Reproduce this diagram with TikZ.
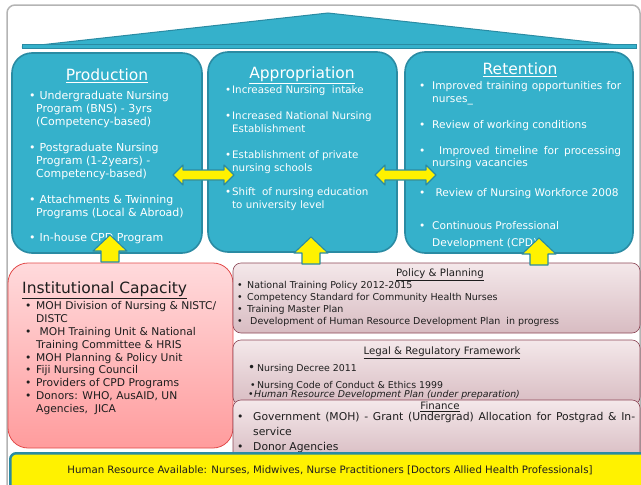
\documentclass[tikz,border=0pt]{standalone}
\usepackage{fontspec}
\setmainfont{DejaVu Sans}
\usetikzlibrary{positioning,calc}

\definecolor{pillarfill}{HTML}{35B1CB}
\definecolor{pillarline}{HTML}{2A8BA3}
\definecolor{capfilla}{HTML}{FFDADC}
\definecolor{capfillb}{HTML}{FF9C9D}
\definecolor{capline}{HTML}{E24A4A}
\definecolor{rulefilla}{HTML}{F4E8EA}
\definecolor{rulefillb}{HTML}{D8BCC2}
\definecolor{ruleline}{HTML}{8C4656}
\definecolor{inktext}{HTML}{1E1E1E}
\definecolor{framegray}{HTML}{B4B4B4}

\newcommand{\lbul}[1]{\makebox[#1][l]{\textbullet}}
\newcommand{\lind}[1]{\hspace*{#1}}

\tikzset{
  pillar/.style={draw=pillarline,fill=pillarfill,line width=1.6pt,rounded corners=20pt,inner sep=0pt},
  capbox/.style={draw=capline,line width=0.8pt,top color=capfilla,bottom color=capfillb,rounded corners=20pt,inner sep=0pt},
  rulebox/.style={draw=ruleline,line width=0.6pt,top color=rulefilla,bottom color=rulefillb,rounded corners=8pt,inner sep=0pt},
  pillartitle/.style={text=white,font=\fontsize{15.5}{17}\selectfont,inner sep=0pt},
  pillarlist/.style={text=white,align=left,inner sep=0pt,anchor=north west},
  ruletitle/.style={text=inktext,font=\fontsize{10.2}{12}\selectfont,inner sep=0pt},
  rulelist/.style={text=inktext,align=left,inner sep=0pt,anchor=north west},
  blockarrow/.style={draw=pillarline,fill=yellow,line width=1.1pt,line join=round}
}

\begin{document}
\begin{tikzpicture}[x=1pt,y=-1pt]
  \useasboundingbox (0,0) rectangle (641,485);
  \clip (0,0) rectangle (641,485);
  % frame and roof
  \draw[framegray,line width=1.5pt,rounded corners=8pt] (7,5) rectangle (640,500);
  \coordinate (roofl) at (22,47);
  \coordinate (roofr) at (636,47);
  \coordinate (apex) at (328,13);
  \filldraw[fill=pillarfill,draw=pillarline,line width=1pt] (roofl) -- (apex) -- (roofr) -- cycle;
  \filldraw[fill=pillarfill,draw=pillarline,line width=1pt] ($(roofl)+(0,-3)$) rectangle ($(roofr)+(0,1)$);

  % three pillars
  \node[pillar,minimum width=190pt,minimum height=200pt] (prod) at (107,153) {};
  \node[pillar,minimum width=189pt,minimum height=200pt] (appr) at (302.5,152) {};
  \node[pillar,minimum width=228pt,minimum height=201pt] (ret) at (519,152.5) {};

  \node[pillartitle] (prodtitle) at (107,76) {\underline{Production}};
  \node[pillartitle] (apprtitle) at (302,75) {\underline{Appropriation}};
  \node[pillartitle] (rettitle) at (520,70) {\underline{Retention}};

  \node[pillarlist,font=\fontsize{11}{13}\selectfont] (prodlist) at (29,90.5) {%
    \lbul{7pt}\ Undergraduate Nursing\\
    \lind{7pt}Program (BNS) - 3yrs\\
    \lind{7pt}(Competency-based)\\[13pt]
    \lbul{7pt}\ Postgraduate Nursing\\
    \lind{7pt}Program (1-2years) -\\
    \lind{7pt}Competency-based)\\[13pt]
    \lbul{7pt}\ Attachments \& Twinning\\
    \lind{7pt}Programs (Local \& Abroad)\\[12pt]
    \lbul{7pt}\ In-house CPD Program};

  \node[pillarlist,font=\fontsize{10.3}{13}\selectfont] (apprlist) at (225,85.5) {%
    \lbul{7pt}Increased Nursing\ \ intake\\[13pt]
    \lbul{7pt}Increased National Nursing\\
    \lind{7pt}Establishment\\[13pt]
    \lbul{7pt}Establishment of private\\
    \lind{7pt}nursing schools\\[11pt]
    \lbul{7pt}Shift\ \ of nursing education\\
    \lind{7pt}to university level};

  \node[pillarlist,font=\fontsize{10.6}{12.5}\selectfont] (retlist) at (419,81.5) {%
    \lbul{13pt}\makebox[189pt][s]{Improved training opportunities for}\\
    \lind{13pt}nurses\_\\[13.5pt]
    \lbul{13pt}Review of working conditions\\[13.5pt]
    \lbul{13pt}\makebox[189pt][s]{\hspace{7pt}Improved timeline for processing}\\
    \lind{13pt}nursing vacancies\\[17.5pt]
    \lbul{13pt}\ Review of Nursing Workforce 2008\\[20.5pt]
    \lbul{13pt}Continuous Professional\\[4.5pt]
    \lind{13pt}Development (CPD)};

  % institutional capacity
  \node[capbox,minimum width=225pt,minimum height=185pt] (inst) at (120.5,355.5) {};
  \node[text=inktext,font=\fontsize{15.5}{17}\selectfont,inner sep=0pt,anchor=west] (insttitle) at (22,290.5) {\underline{Institutional Capacity}};
  \node[rulelist,font=\fontsize{10.7}{12.8}\selectfont] (instlist) at (25,301.5) {%
    \lbul{11pt}MOH Division of Nursing \& NISTC/\\
    \lind{11pt}DISTC\\
    \lbul{11pt}\ MOH Training Unit \& National\\
    \lind{11pt}Training Committee \& HRIS\\
    \lbul{11pt}MOH Planning \& Policy Unit\\
    \lbul{11pt}Fiji Nursing Council\\
    \lbul{11pt}Providers of CPD Programs\\
    \lbul{11pt}Donors: WHO, AusAID, UN\\
    \lind{11pt}Agencies,\ \ JICA};

  % policy, legal, finance
  \node[rulebox,minimum width=407pt,minimum height=70pt] (policy) at (436.5,298) {};
  \node[ruletitle] (policytitle) at (440,275) {\underline{Policy \& Planning}};
  \node[rulelist,font=\fontsize{9.5}{12}\selectfont] (policylist) at (237,281.5) {%
    \lbul{10pt}National Training Policy 2012-2015\\
    \lbul{10pt}Competency Standard for Community Health Nurses\\
    \lbul{10pt}Training Master Plan\\
    \lbul{10pt}\ Development of Human Resource Development Plan\ \ in progress};

  \node[rulebox,minimum width=407pt,minimum height=65pt] (legal) at (436.5,372.5) {};
  \node[ruletitle] (legaltitle) at (442,353) {\underline{Legal \& Regulatory Framework}};
  \node[rulelist,font=\fontsize{9.4}{11}\selectfont] (legallist) at (248,364.5) {%
    \makebox[9pt][l]{\large\textbullet}Nursing Decree 2011\\[5.5pt]
    \lind{2pt}\lbul{7pt}Nursing Code of Conduct \& Ethics 1999\\[-1.5pt]
    \lbul{6pt}\textit{Human Resource Development Plan (under preparation)}};

  \node[rulebox,minimum width=407pt,minimum height=60pt] (finance) at (436.5,430) {};
  \node[ruletitle] (financetitle) at (440,407) {\underline{Finance}};
  \node[rulelist,font=\fontsize{10.8}{15}\selectfont] (financelist) at (237,412.5) {%
    \lbul{16pt}\makebox[382pt][s]{Government (MOH) - Grant (Undergrad) Allocation for Postgrad \& In-}\\
    \lind{16pt}service\\
    \lbul{16pt}Donor Agencies};

  % arrows
  \foreach \tipx/\tipy in {110/235,311/237,539/238}{
    \coordinate (uptip) at (\tipx,\tipy);
    \draw[blockarrow] (uptip) -- ++(17,16) -- ++(-8,0) -- ++(0,11) -- ++(-18,0)
      -- ++(0,-11) -- ++(-8,0) -- cycle;
  }
  \foreach \tipx in {173,375}{
    \coordinate (sidetip) at (\tipx,175);
    \draw[blockarrow] (sidetip) -- ++(10,-10) -- ++(0,5) -- ++(41,0) -- ++(0,-5)
      -- ++(10,10) -- ++(-10,10) -- ++(0,-5) -- ++(-41,0) -- ++(0,5) -- cycle;
  }

  % human resource base
  \node[draw=pillarline,fill=yellow,line width=2.5pt,rounded corners=6pt,minimum width=650pt,minimum height=45pt,anchor=north west,inner sep=0pt] (hrbar) at (9,452) {};
  \node[text=inktext,font=\fontsize{10.2}{12}\selectfont,inner sep=0pt] (hrtext) at (330,470) {Human Resource Available: Nurses, Midwives, Nurse Practitioners [Doctors Allied Health Professionals]};
\end{tikzpicture}
\end{document}
